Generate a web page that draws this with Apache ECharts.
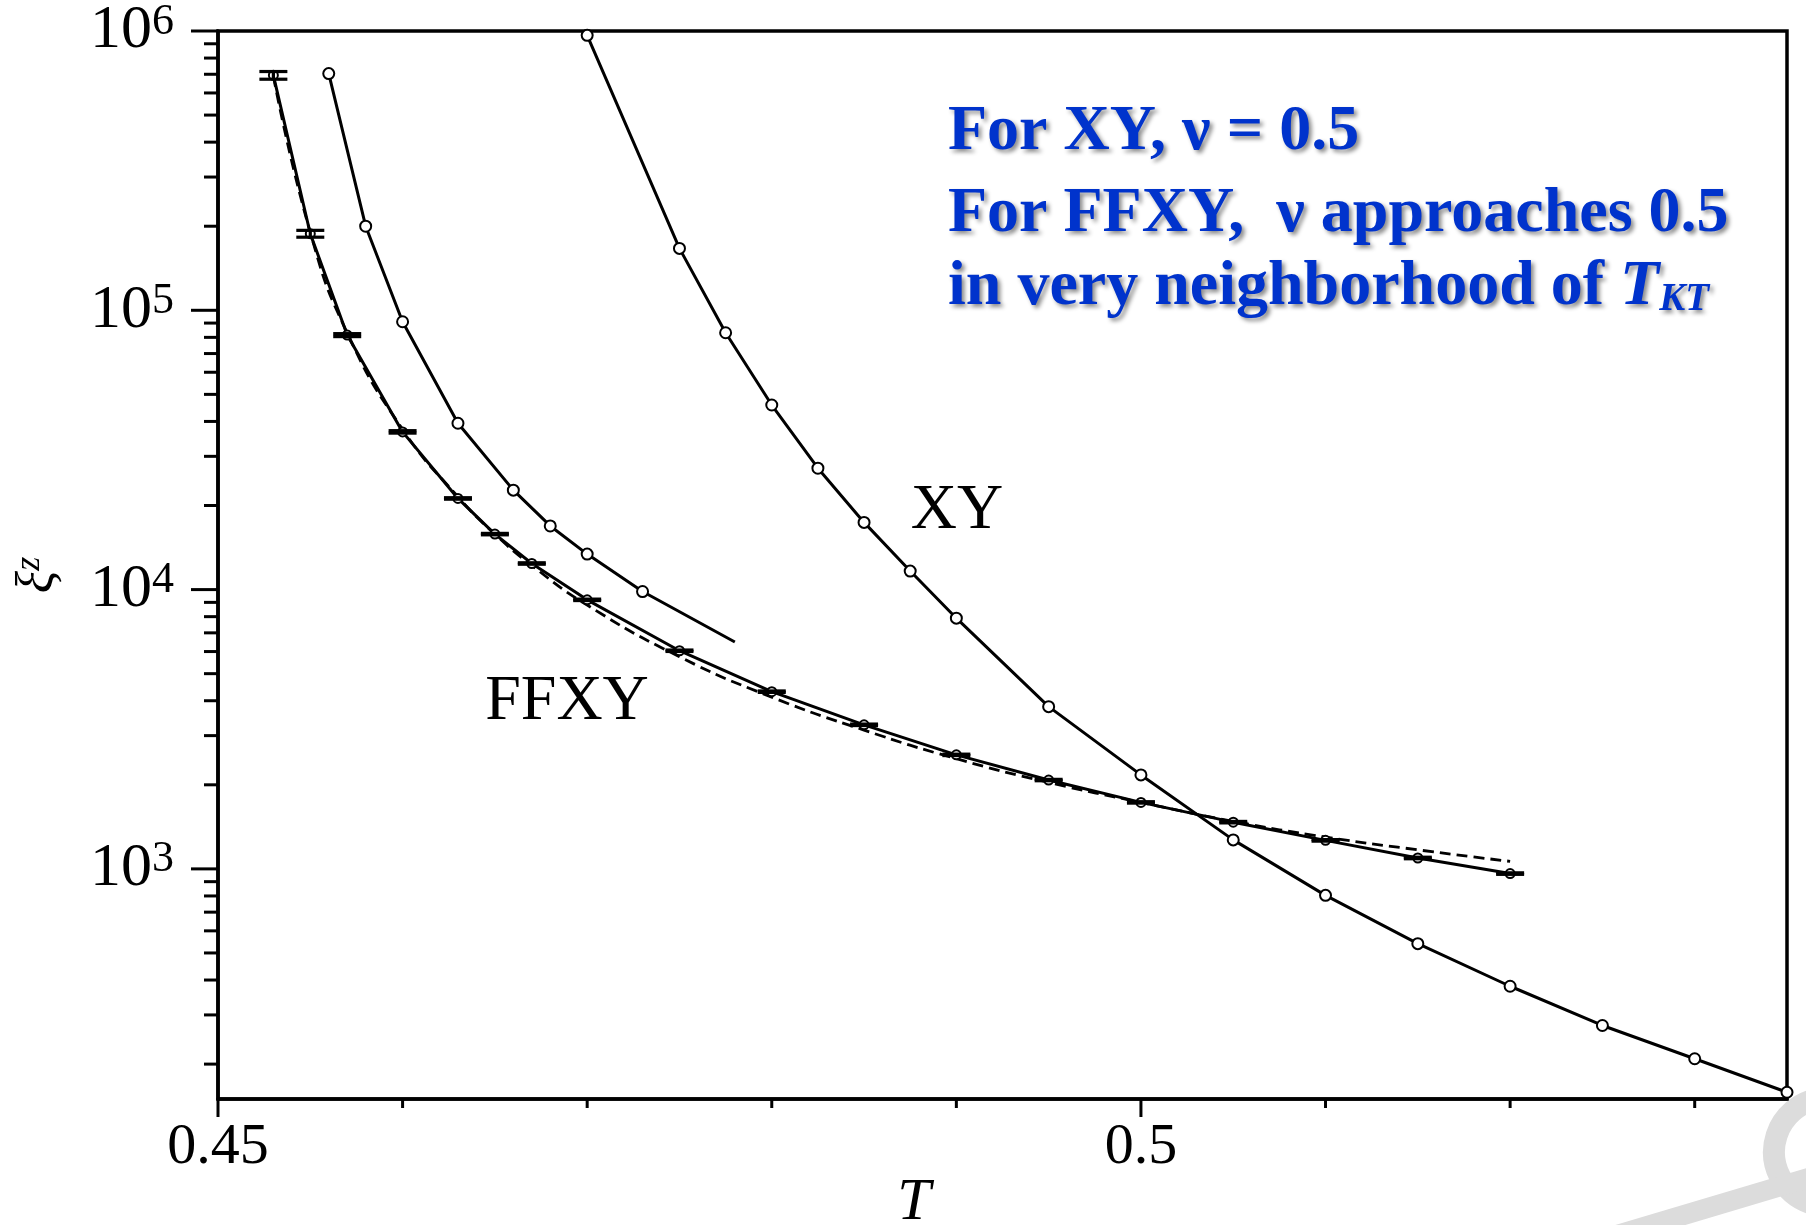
<!DOCTYPE html>
<html>
<head>
<meta charset="utf-8">
<title>Correlation length vs T, XY and FFXY</title>
<script src="https://cdn.jsdelivr.net/npm/echarts@6/dist/echarts.min.js"></script>
<style>
html, body {margin: 0; padding: 0; background: #fff;}
#main {width: 1806px; height: 1225px;}
</style>
</head>
<body>
<div id="main"></div>
<script type="text/javascript">
// FFXY points (with error bars, solid line)
var ffxyT = [0.453, 0.455, 0.457, 0.46, 0.463, 0.465, 0.467, 0.47, 0.475, 0.48, 0.485, 0.49, 0.495, 0.5, 0.505, 0.51, 0.515, 0.52];
var ffxyXi = [694000, 188000, 81500, 36700, 21200, 15800, 12400, 9190, 6040, 4310, 3280, 2560, 2080, 1730, 1470, 1265, 1094, 962];
var ffxyErr = [22000, 5300, 1000, 370, 130, 95, 75, 55, 36, 26, 20, 15, 12, 10, 9, 8, 7, 6];

// dashed fit through FFXY
var fitT = [0.453, 0.455, 0.457, 0.46, 0.463, 0.465, 0.467, 0.47, 0.475, 0.48, 0.485, 0.49, 0.495, 0.5, 0.505, 0.51, 0.515, 0.52];
var fitXi = [690000, 190000, 83000, 37500, 21500, 15800, 12200, 8800, 5750, 4120, 3140, 2480, 2040, 1730, 1480, 1300, 1170, 1064];

// middle curve (open circles, last point has no marker)
var midT = [0.456, 0.458, 0.46, 0.463, 0.466, 0.468, 0.47, 0.473, 0.478];
var midXi = [704000, 200000, 91000, 39400, 22700, 16900, 13400, 9840, 6490];

// XY curve (open circles)
var xyT = [0.47, 0.475, 0.4775, 0.48, 0.4825, 0.485, 0.4875, 0.49, 0.495, 0.5, 0.505, 0.51, 0.515, 0.52, 0.525, 0.53, 0.535];
var xyXi = [965000, 166600, 83100, 45800, 27200, 17400, 11650, 7900, 3810, 2170, 1270, 804, 540, 380, 275, 209, 158.6];

// axis ranges and ticks
var xMin = 0.45, xMax = 0.535;
var yMin = 150, yMax = 1000000;
var xLabelTicks = [0.45, 0.5];
var xMinorTicks = [0.46, 0.47, 0.48, 0.49, 0.51, 0.52, 0.53];
var yLabelTicks = [1000, 10000, 100000, 1000000];
var yMinorTicks = [];
[100, 1000, 10000, 100000].forEach(function (d) {
  for (var k = 2; k <= 9; k++) {
    if (k * d >= yMin) yMinorTicks.push(k * d);
  }
});

function zip(a, b) {
  return a.map(function (v, i) { return [v, b[i]]; });
}

var serif = "'Liberation Serif', 'DejaVu Serif', serif";
var blue = '#0033cc';
var shadow = {textShadowColor: 'rgba(0,0,0,0.45)', textShadowBlur: 4, textShadowOffsetX: 3, textShadowOffsetY: 3};

var tickRows = [];
xLabelTicks.forEach(function (v) { tickRows.push([v, yMin, 0, 18]); });
xMinorTicks.forEach(function (v) { tickRows.push([v, yMin, 0, 9]); });
yLabelTicks.forEach(function (v) { tickRows.push([xMin, v, 1, 27]); });
yMinorTicks.forEach(function (v) { tickRows.push([xMin, v, 1, 14]); });

var midData = zip(midT, midXi).map(function (p, i) {
  return i === midT.length - 1 ? {value: p, symbol: 'none'} : p;
});

function blueLine(y, text) {
  return {type: 'text', x: 948, y: y,
    style: echarts.util.extend({text: text, font: 'bold 64px ' + serif, fill: blue, align: 'left', verticalAlign: 'middle'}, shadow)};
}

var chart = echarts.init(document.getElementById('main'));

var option = {
  animation: false,
  backgroundColor: '#fff',
  grid: {
    left: 218, top: 31, right: 19, bottom: 126,
    show: true, borderColor: '#000', borderWidth: 3.5
  },
  xAxis: {
    type: 'value',
    min: xMin, max: xMax, interval: 0.05,
    axisLine: {show: true, lineStyle: {color: '#000', width: 3.5}},
    axisTick: {show: false},
    splitLine: {show: false},
    axisLabel: {
      color: '#000', fontFamily: serif, fontSize: 58, margin: 20,
      showMaxLabel: false,
      formatter: function (v) {
        for (var i = 0; i < xLabelTicks.length; i++) {
          if (Math.abs(v - xLabelTicks[i]) < 1e-9) return String(xLabelTicks[i]);
        }
        return '';
      }
    }
  },
  yAxis: {
    type: 'log', logBase: 10,
    min: yMin, max: yMax,
    axisLine: {show: true, lineStyle: {color: '#000', width: 3.5}},
    axisTick: {show: false},
    splitLine: {show: false},
    axisLabel: {
      margin: 44,
      formatter: function (v) {
        var e = Math.round(Math.log(v) / Math.LN10);
        if (Math.abs(Math.pow(10, e) - v) / v > 1e-6) return '';
        return '{b|10}{s|' + e + '}';
      },
      rich: {
        b: {fontFamily: serif, fontSize: 62, color: '#000'},
        s: {fontFamily: serif, fontSize: 44, color: '#000', verticalAlign: 'top', padding: [0, 0, 16, 0]}
      }
    }
  },
  graphic: [
    {type: 'text', x: 957, y: 511, style: {text: 'XY', font: '64px ' + serif, fill: '#000', align: 'center', verticalAlign: 'middle'}},
    {type: 'text', x: 567, y: 702, style: {text: 'FFXY', font: '64px ' + serif, fill: '#000', align: 'center', verticalAlign: 'middle'}},
    {type: 'text', x: 914, y: 1203, style: {text: 'T', font: 'italic 60px ' + serif, fill: '#000', align: 'center', verticalAlign: 'middle'}},
    {type: 'text', x: 38, y: 575, rotation: Math.PI / 2,
      style: {
        text: '{a|ξ}{b|z}', align: 'center', verticalAlign: 'middle',
        rich: {
          a: {fontFamily: serif, fontStyle: 'italic', fontSize: 52, fill: '#000'},
          b: {fontFamily: serif, fontStyle: 'italic', fontSize: 36, fill: '#000', verticalAlign: 'top'}
        }
      }
    },
    blueLine(132, 'For XY, ν = 0.5'),
    blueLine(214, 'For FFXY,  ν approaches 0.5'),
    {type: 'text', x: 948, y: 287,
      style: echarts.util.extend({
        text: '{n|in very neighborhood of }{t|T}{k|KT}', align: 'left', verticalAlign: 'middle',
        rich: {
          n: {fontFamily: serif, fontWeight: 'bold', fontSize: 64, fill: blue},
          t: {fontFamily: serif, fontWeight: 'bold', fontStyle: 'italic', fontSize: 64, fill: blue},
          k: {fontFamily: serif, fontWeight: 'bold', fontStyle: 'italic', fontSize: 39, fill: blue, verticalAlign: 'bottom'}
        }
      }, shadow)
    },
    // faint watermark in the lower right corner
    {type: 'arc', shape: {cx: 1828, cy: 1152, r: 54, startAngle: Math.PI * 0.6, endAngle: Math.PI * 1.45}, style: {stroke: '#dcdcdc', lineWidth: 22, fill: null}, z: -1},
    {type: 'line', shape: {x1: 1600, y1: 1240, x2: 1815, y2: 1176}, style: {stroke: '#dcdcdc', lineWidth: 20}, z: -1}
  ],
  series: [
    {
      name: 'fit', type: 'line', data: zip(fitT, fitXi), smooth: true, symbol: 'none', clip: false,
      lineStyle: {color: '#000', width: 2.8, type: [11, 6]}, z: 2
    },
    {
      name: 'FFXY', type: 'line', data: zip(ffxyT, ffxyXi), symbol: 'emptyCircle', symbolSize: 9, clip: false,
      itemStyle: {color: '#000', borderWidth: 3}, lineStyle: {color: '#000', width: 3}, z: 3
    },
    {
      name: 'FFXY error', type: 'custom', clip: false, z: 4,
      data: ffxyT.map(function (t, i) { return [t, ffxyXi[i], ffxyErr[i]]; }),
      encode: {x: 0, y: 1},
      renderItem: function (params, api) {
        var t = api.value(0), v = api.value(1), e = api.value(2);
        var lo = api.coord([t, v - e]);
        var hi = api.coord([t, v + e]);
        var w = 14;
        var st = {stroke: '#000', lineWidth: 3.2};
        return {type: 'group', children: [
          {type: 'line', shape: {x1: lo[0] - w, y1: lo[1], x2: lo[0] + w, y2: lo[1]}, style: st},
          {type: 'line', shape: {x1: hi[0] - w, y1: hi[1], x2: hi[0] + w, y2: hi[1]}, style: st},
          {type: 'line', shape: {x1: lo[0], y1: lo[1], x2: hi[0], y2: hi[1]}, style: st}
        ]};
      }
    },
    {
      name: 'middle', type: 'line', data: midData, symbol: 'emptyCircle', symbolSize: 11, clip: false,
      itemStyle: {color: '#000', borderWidth: 3}, lineStyle: {color: '#000', width: 3}, z: 3
    },
    {
      name: 'XY', type: 'line', data: zip(xyT, xyXi), symbol: 'emptyCircle', symbolSize: 11, clip: false,
      itemStyle: {color: '#000', borderWidth: 3}, lineStyle: {color: '#000', width: 3}, z: 3
    },
    {
      name: 'ticks', type: 'custom', clip: false, silent: true, z: 5,
      data: tickRows,
      encode: {x: 0, y: 1},
      renderItem: function (params, api) {
        var p = api.coord([api.value(0), api.value(1)]);
        var len = api.value(3);
        var shape = api.value(2) === 0
          ? {x1: p[0], y1: p[1], x2: p[0], y2: p[1] + len}
          : {x1: p[0] - len, y1: p[1], x2: p[0], y2: p[1]};
        return {type: 'line', shape: shape, style: {stroke: '#000', lineWidth: 3}};
      }
    }
  ]
};

chart.setOption(option);
</script>
</body>
</html>
